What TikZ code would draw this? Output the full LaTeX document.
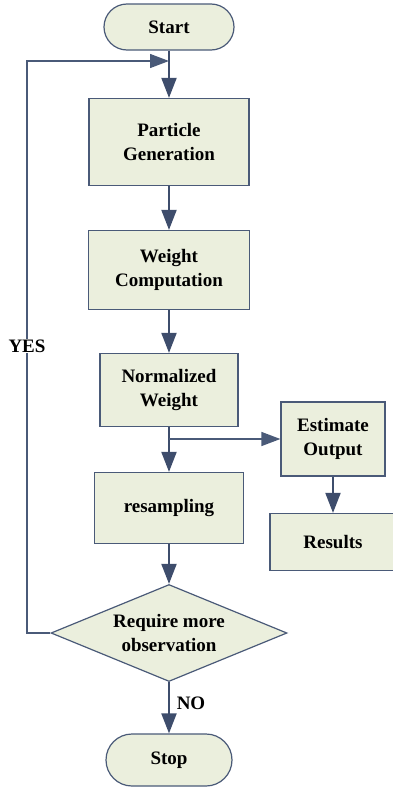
\documentclass[tikz,border=0pt]{standalone}
\usepackage{fontspec}
\setmainfont{Liberation Serif}
\usepackage{tikz}
\usetikzlibrary{shapes.geometric,arrows.meta}
\definecolor{boxfill}{HTML}{EBEFDD}
\definecolor{boxline}{HTML}{4A5A78}
\definecolor{arrowcol}{HTML}{3E4D6C}

\begin{document}
\begin{tikzpicture}[x=1pt,y=-1pt,
  font=\fontsize{19}{24}\selectfont\bfseries,
  box/.style={draw=boxline, fill=boxfill, line width=1.2pt, align=center, inner sep=0pt},
  term/.style={box, rounded corners=23pt},
  flow/.style={draw=arrowcol, line width=2pt, -{Triangle[length=20pt,width=15pt]}},
  back/.style={draw=boxline, line width=1.3pt, -{Triangle[length=19pt,width=14pt]}}]
\useasboundingbox (0,0) rectangle (393,787);

\node[term, minimum width=130pt, minimum height=46pt] (start) at (169,27) {Start};
\node[box, minimum width=160pt, minimum height=87pt] (gen) at (169,142) {Particle\\Generation};
\node[box, minimum width=161pt, minimum height=79pt] (weight) at (169,270) {Weight\\Computation};
\node[box, minimum width=138pt, minimum height=73pt] (norm) at (169,390) {Normalized\\Weight};
\node[box, minimum width=149pt, minimum height=71pt] (resamp) at (169,508) {resampling};
\node[box, minimum width=104pt, minimum height=74pt] (est) at (333,439) {Estimate\\Output};
\node[box, minimum width=132pt, minimum height=57pt] (res) at (336,542) {\hspace*{-6pt}Results};
\node[box, diamond, aspect=2.43, minimum width=236pt, minimum height=97pt] (more) at (169,633) {Require more\\observation};
\node[term, rounded corners=26pt, minimum width=126pt, minimum height=52pt] (stop) at (169,760) {Stop};

\coordinate (join) at (169,61);
\coordinate (turn) at (27,61);
\coordinate (split) at (169,439);

\draw[flow] (start) -- (gen);
\draw[flow] (gen) -- (weight);
\draw[flow] (weight) -- (norm);
\draw[flow] (norm) -- (resamp);
\draw[flow] (resamp) -- (more);
\draw[flow] (more) -- (stop);
\draw[flow] (est) -- (est |- res.north);
\draw[back] (split) -- (est.west);
\draw[back] (more.west) -| (turn) -- (join);

\node[fill=white, inner sep=1pt] (yes) at (27,346) {YES};
\node (no) at (191,703) {NO};

\end{tikzpicture}
\end{document}
